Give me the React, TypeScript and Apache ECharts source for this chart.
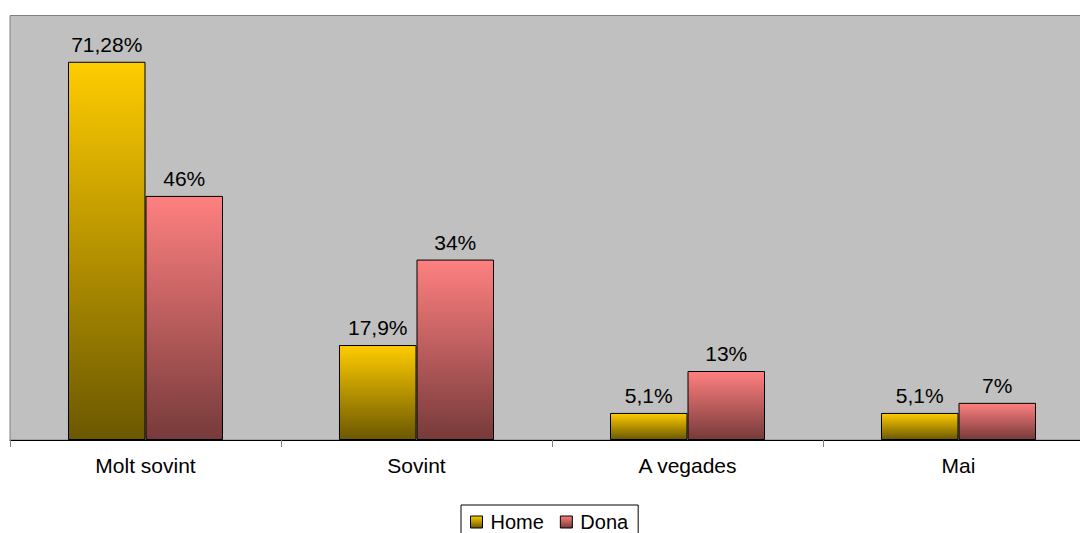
import React, { useEffect, useRef } from "react";
import * as echarts from "echarts";

const categories = ["Molt sovint", "Sovint", "A vegades", "Mai"];
const homeValues = [71.28, 17.9, 5.1, 5.1];
const donaValues = [46, 34, 13, 7];
const homeLabels = ["71,28%", "17,9%", "5,1%", "5,1%"];
const donaLabels = ["46%", "34%", "13%", "7%"];

const FONT = "'Liberation Sans', Arial, sans-serif";

const homeGrad = () =>
  new echarts.graphic.LinearGradient(0, 0, 0, 1, [
    { offset: 0, color: "#FFCC00" },
    { offset: 1, color: "#6B5800" },
  ]);
const donaGrad = () =>
  new echarts.graphic.LinearGradient(0, 0, 0, 1, [
    { offset: 0, color: "#FF8080" },
    { offset: 1, color: "#773A3A" },
  ]);

export default function App() {
  const ref = useRef<HTMLDivElement>(null);
  useEffect(() => {
    if (!ref.current) return;
    const chart = echarts.init(ref.current, null, { renderer: "svg" });
    const labelStyle = (labels: string[]) => ({
      show: true,
      position: "top",
      distance: 7,
      fontSize: 21,
      fontFamily: FONT,
      color: "#000",
      formatter: (p: any) => labels[p.dataIndex],
    });
    chart.setOption({
      animation: false,
      backgroundColor: "#fff",
      grid: {
        left: 10,
        top: 15.5,
        bottom: 93,
        right: 0,
        show: true,
        backgroundColor: "#C0C0C0",
        borderColor: "#808080",
        borderWidth: 1,
      },
      legend: {
        left: 461,
        top: 505,
        padding: [7, 10, 10, 9],
        borderColor: "#000",
        borderWidth: 1,
        itemWidth: 12,
        itemHeight: 12,
        itemGap: 16,
        icon: "rect",
        textStyle: { fontSize: 20, fontFamily: FONT, color: "#000", padding: [0, 0, 0, 3] },
        data: [
          { name: "Home", itemStyle: { color: homeGrad(), borderColor: "#000", borderWidth: 1 } },
          { name: "Dona", itemStyle: { color: donaGrad(), borderColor: "#000", borderWidth: 1 } },
        ],
      },
      xAxis: {
        type: "category",
        data: categories,
        axisLine: { lineStyle: { color: "#000", width: 1 } },
        axisTick: { show: true, length: 7, lineStyle: { color: "#808080" } },
        axisLabel: { fontSize: 21, fontFamily: FONT, color: "#000", margin: 15 },
      },
      yAxis: {
        type: "value",
        min: 0,
        max: 80,
        show: false,
        splitLine: { show: false },
      },
      series: [
        {
          name: "Home",
          type: "bar",
          data: homeValues,
          barWidth: "28.6%",
          barGap: "0%",
          itemStyle: { color: homeGrad(), borderColor: "#000", borderWidth: 1 },
          label: labelStyle(homeLabels),
        },
        {
          name: "Dona",
          type: "bar",
          data: donaValues,
          barWidth: "28.6%",
          itemStyle: { color: donaGrad(), borderColor: "#000", borderWidth: 1 },
          label: labelStyle(donaLabels),
        },
      ],
    });
    return () => chart.dispose();
  }, []);
  return (
    <div
      style={{ position: "fixed", left: 0, top: 0, width: 1080, height: 533, overflow: "hidden", background: "#fff" }}
    >
      <div ref={ref} style={{ width: 1094, height: 533 }} />
    </div>
  );
}
